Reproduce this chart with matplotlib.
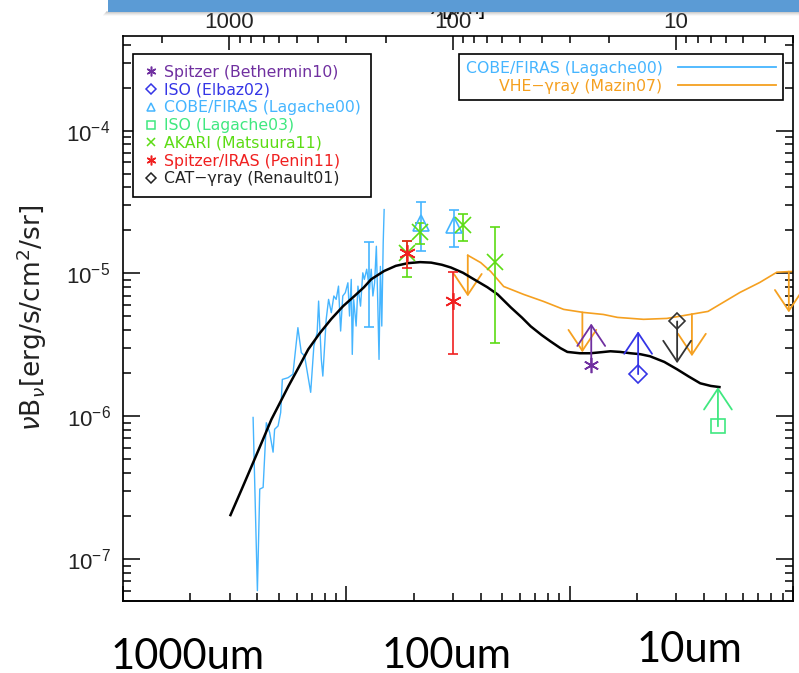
import numpy as np
import matplotlib

matplotlib.use('Agg')
import matplotlib.pyplot as plt
from matplotlib.lines import Line2D
from matplotlib.patches import Rectangle
from matplotlib.ticker import LogLocator, NullFormatter, FixedLocator, FixedFormatter

C_UM = 2.998e14   # nu [Hz] = C_UM / lambda [um]

# --- model EBL curve (black) ---
model_lam = [990, 880, 782, 710, 649, 590, 545, 490, 444, 395, 350, 310, 277, 250, 232,
             203, 180, 159, 140, 125, 112, 102, 90, 80.5, 70, 63, 55, 49, 44.8, 40,
             36.5, 33, 30.7, 27, 24.2, 21.5, 19.7, 17.8, 16.0, 14.5, 13.1, 11.3, 9.9,
             8.8, 7.8, 7.0, 6.4]
model_val = [2.03e-7, 3.1e-7, 4.77e-7, 6.8e-7, 9.5e-7, 1.27e-6, 1.62e-6, 2.2e-6, 2.94e-6,
             3.8e-6, 4.8e-6, 5.9e-6, 6.9e-6, 8.0e-6, 9.1e-6, 1.04e-5, 1.13e-5, 1.18e-5,
             1.2e-5, 1.19e-5, 1.15e-5, 1.10e-5, 1.01e-5, 9.1e-6, 8.0e-6, 7.13e-6, 5.78e-6,
             4.9e-6, 4.26e-6, 3.7e-6, 3.34e-6, 3.0e-6, 2.82e-6, 2.76e-6, 2.76e-6, 2.81e-6,
             2.85e-6, 2.82e-6, 2.76e-6, 2.72e-6, 2.63e-6, 2.4e-6, 2.13e-6, 1.9e-6, 1.70e-6,
             1.63e-6, 1.60e-6]

# --- COBE/FIRAS spectrum (Lagache00) ---
firas_lam = [784, 750, 732, 707, 684, 661, 638, 628, 606, 590, 580, 547, 520, 494, 477,
             461, 433, 419, 405, 399, 388, 382, 369, 360, 350, 341, 333, 325, 318, 311,
             303, 295, 290, 285, 282, 278, 271, 266, 259, 253, 249, 243, 236, 232, 228,
             224, 220, 217, 214, 211, 208, 205, 203]
firas_val = [0.98, 0.060, 0.309, 0.317, 0.90, 0.77, 0.56, 0.81, 0.855, 1.06, 1.81, 1.86,
             1.97, 4.17, 2.79, 2.64, 1.47, 3.10, 3.85, 6.4, 2.5, 1.91, 4.77, 6.58, 5.31,
             6.95, 6.58, 8.15, 3.95, 6.95, 7.33, 8.6, 5.03, 9.08, 2.71, 6.58, 4.28, 8.15,
             5.9, 10.1, 9.08, 10.7, 7.73, 10.7, 6.95, 8.6, 15.5, 6.58, 2.5, 11.2, 4.28,
             16.4, 28.0]   # units of 1e-6
firas_err_lam = [237]
firas_err_lo = [4.19e-6]
firas_err_hi = [1.65e-5]

# --- VHE gamma-ray upper limit (Mazin07) ---
vhe_lam = [85.7, 75, 67.6, 59.2, 48.2, 39.3, 31.9, 26.0, 21.2, 18.3, 14.0, 11.0, 8.66,
           7.2, 5.18, 4.22, 3.54, 3.10, 3.0]
vhe_val = [1.34e-5, 1.19e-5, 1.03e-5, 8.1e-6, 7.13e-6, 6.37e-6, 5.6e-6, 5.33e-6, 5.16e-6,
           4.92e-6, 4.77e-6, 4.84e-6, 5.16e-6, 5.42e-6, 7.36e-6, 8.65e-6, 1.02e-5,
           1.03e-5, 1.03e-5]
vhe_arrow_lam = [85.7, 26.3, 8.5, 3.13]
vhe_arrow_top = [1.34e-5, 5.33e-6, 5.2e-6, 1.03e-5]
vhe_arrow_tip = [6.9e-6, 2.8e-6, 2.63e-6, 5.33e-6]

# --- points with error bars ---
lag00_lam = [139, 99]
lag00_val = [2.27e-5, 2.2e-5]
lag00_lo = [1.43e-5, 1.52e-5]
lag00_hi = [3.14e-5, 2.8e-5]

akari_lam = [160, 140, 90, 65]
akari_val = [1.38e-5, 1.94e-5, 2.17e-5, 1.21e-5]
akari_lo = [9.4e-6, 1.6e-5, 1.70e-5, 3.24e-6]
akari_hi = [1.70e-5, 2.27e-5, 2.59e-5, 2.1e-5]

penin_lam = [160, 100]
penin_val = [1.38e-5, 6.37e-6]
penin_lo = [1.1e-5, 2.72e-6]
penin_hi = [1.70e-5, 1.03e-5]

# --- limits: value, arrow tip ---
beth_lam, beth_val, beth_tip = [24], [2.28e-6], [4.46e-6]
elbaz_lam, elbaz_val, elbaz_tip = [14.8], [1.97e-6], [3.93e-6]
lag03_lam, lag03_val, lag03_tip = [6.5], [8.5e-7], [1.6e-6]
ren_lam, ren_val, ren_tip = [9.9], [4.61e-6], [2.35e-6]

top_ticks = [1000, 100, 10]
top_tick_labels = ['1000', '100', '10']

C_PURPLE = '#7030a0'
C_BLUE = '#3535e6'
C_LBLUE = '#45b5ff'
C_LGREEN = '#40e880'
C_GREEN = '#5cdc14'
C_RED = '#f02020'
C_ORANGE = '#f5a020'
ASTER = (6, 2, 0)

plt.rcParams['font.family'] = 'Liberation Sans'
plt.rcParams['mathtext.fontset'] = 'custom'
plt.rcParams['mathtext.rm'] = 'Liberation Sans'
plt.rcParams['mathtext.it'] = 'Liberation Sans:italic'
plt.rcParams['mathtext.bf'] = 'Liberation Sans:bold'

fig = plt.figure(figsize=(7.99, 6.73), dpi=100)
ax = fig.add_axes([123 / 799, 1 - 601 / 673, 670 / 799, 565 / 673])
ax.set_xscale('log')
ax.set_yscale('log')
ax.set_xlim(C_UM / 1e11, C_UM / 1e14)
ax.set_ylim(5.08e-8, 4.6e-4)


def arrows(lams, base, tip, color):
    for l, b, t in zip(lams, base, tip):
        ax.annotate('', xy=(l, t), xytext=(l, b),
                    arrowprops=dict(arrowstyle='->,head_length=1.5,head_width=1.0',
                                    color=color, lw=1.3, shrinkA=0, shrinkB=0,
                                    mutation_scale=10))


# lines
ax.plot(firas_lam, np.array(firas_val) * 1e-6, color=C_LBLUE, lw=1.0, zorder=2)
fl_mid = np.sqrt(np.array(firas_err_lo) * np.array(firas_err_hi))
ax.errorbar(firas_err_lam, fl_mid,
            yerr=[fl_mid - np.array(firas_err_lo), np.array(firas_err_hi) - fl_mid],
            fmt='none', ecolor=C_LBLUE, elinewidth=1.2, capsize=3.6, capthick=1.2, zorder=2)
ax.plot(vhe_lam, vhe_val, color=C_ORANGE, lw=1.2, zorder=2)
arrows(vhe_arrow_lam, vhe_arrow_top, vhe_arrow_tip, C_ORANGE)
ax.plot(model_lam, model_val, color='black', lw=1.8, zorder=3)


def errpts(lam, val, lo, hi, marker, color, ms):
    val = np.array(val)
    ax.errorbar(lam, val, yerr=[val - np.array(lo), np.array(hi) - val], fmt='',
                marker=marker, ls='none', color=color, mfc='none', mec=color, ms=ms,
                mew=1.2, elinewidth=1.2, capsize=3.6, capthick=1.2, zorder=4)


errpts(lag00_lam, lag00_val, lag00_lo, lag00_hi, '^', C_LBLUE, 11)
errpts(akari_lam, akari_val, akari_lo, akari_hi, 'x', C_GREEN, 11)
errpts(penin_lam, penin_val, penin_lo, penin_hi, ASTER, C_RED, 12)

# limits
ax.plot(beth_lam, beth_val, ls='none', marker=ASTER, ms=11, mew=1.2, color=C_PURPLE, zorder=4)
arrows(beth_lam, beth_val, beth_tip, C_PURPLE)
ax.plot(elbaz_lam, elbaz_val, ls='none', marker='D', ms=9, mfc='none', mew=1.2,
        mec=C_BLUE, zorder=4)
arrows(elbaz_lam, elbaz_val, elbaz_tip, C_BLUE)
ax.plot(lag03_lam, lag03_val, ls='none', marker='s', ms=10, mfc='none', mew=1.2,
        mec=C_LGREEN, zorder=4)
arrows(lag03_lam, lag03_val, lag03_tip, C_LGREEN)
ax.plot(ren_lam, ren_val, ls='none', marker='D', ms=8, mfc='none', mew=1.2,
        mec='#333333', zorder=4)
arrows(ren_lam, ren_val, ren_tip, '#333333')

# top axis: wavelength
ax.xaxis.set_ticks_position('top')
ax.xaxis.set_label_position('top')
ax.xaxis.set_major_locator(FixedLocator(top_ticks))
ax.xaxis.set_major_formatter(FixedFormatter(top_tick_labels))
ax.xaxis.set_minor_locator(LogLocator(base=10, subs=np.arange(2, 10), numticks=20))
ax.xaxis.set_minor_formatter(NullFormatter())
ax.tick_params(axis='x', which='major', direction='in', length=10, width=1.1,
               labelsize=16, pad=2, colors='black', labelcolor='#222222')
ax.tick_params(axis='x', which='minor', direction='in', length=5, width=1.1)
ax.set_xlabel(r'$\lambda$[$\mu$m]', fontsize=16)
ax.xaxis.set_label_coords(0.5, 1 + (36 - 14) / 565)

# bottom axis: frequency, no labels
sec = ax.secondary_xaxis('bottom', functions=(lambda l: C_UM / l, lambda n: C_UM / n))
sec.xaxis.set_major_locator(LogLocator(base=10, numticks=10))
sec.xaxis.set_minor_locator(LogLocator(base=10, subs=np.arange(2, 10), numticks=20))
sec.xaxis.set_major_formatter(NullFormatter())
sec.xaxis.set_minor_formatter(NullFormatter())
sec.tick_params(which='major', direction='in', length=11, width=1.1)
sec.tick_params(which='minor', direction='in', length=6, width=1.1)
sec.spines['bottom'].set_linewidth(1.2)

ax.yaxis.set_minor_locator(LogLocator(base=10, subs=np.arange(2, 10), numticks=20))
ax.yaxis.set_minor_formatter(NullFormatter())
ax.tick_params(axis='y', which='major', direction='in', length=12, width=1.1, left=True,
               right=True, labelsize=16, pad=9, labelcolor='#222222')
ax.tick_params(axis='y', which='minor', direction='in', length=6, width=1.1, left=True,
               right=True)
for s in ax.spines.values():
    s.set_linewidth(1.2)
ax.set_ylabel(r'$\nu$B$_\nu$[erg/s/cm$^2$/sr]', fontsize=19, color='#222222',
              family='DejaVu Sans', math_fontfamily='dejavusans')
ax.yaxis.set_label_coords((49 - 123) / 670, 1 - (318 - 36) / 565)

# legends
leg_fp = {'family': 'DejaVu Sans', 'size': 11.3}
h1 = [Line2D([], [], ls='none', marker=ASTER, ms=7, mew=1.1, color=C_PURPLE),
      Line2D([], [], ls='none', marker='D', ms=5, mfc='none', mew=1.1, mec=C_BLUE),
      Line2D([], [], ls='none', marker='^', ms=6, mfc='none', mew=1.1, mec=C_LBLUE),
      Line2D([], [], ls='none', marker='s', ms=6, mfc='none', mew=1.1, mec=C_LGREEN),
      Line2D([], [], ls='none', marker='x', ms=6, mew=1.1, color=C_GREEN),
      Line2D([], [], ls='none', marker=ASTER, ms=7, mew=1.1, color=C_RED),
      Line2D([], [], ls='none', marker='D', ms=5, mfc='none', mew=1.1, mec='#222222')]
l1 = ['Spitzer (Bethermin10)', 'ISO (Elbaz02)', 'COBE/FIRAS (Lagache00)',
      'ISO (Lagache03)', 'AKARI (Matsuura11)', 'Spitzer/IRAS (Penin11)',
      'CAT\u2212\u03b3ray (Renault01)']
c1 = [C_PURPLE, C_BLUE, C_LBLUE, C_LGREEN, C_GREEN, C_RED, '#222222']
leg1 = ax.legend(h1, l1, loc='upper left', bbox_to_anchor=((133 - 123) / 670, 1 - (54 - 36) / 565),
                 borderaxespad=0, prop=leg_fp, labelcolor=c1, fancybox=False,
                 edgecolor='black', framealpha=1, borderpad=0.7, labelspacing=0.175,
                 handlelength=0.95, handletextpad=0.3)
leg1.get_frame().set_linewidth(1.2)
ax.add_artist(leg1)

h2 = [Line2D([], [], color=C_LBLUE, lw=1.3), Line2D([], [], color=C_ORANGE, lw=1.3)]
l2 = ['COBE/FIRAS (Lagache00)', 'VHE\u2212\u03b3ray (Mazin07)']
leg2 = ax.legend(h2, l2, loc='upper right', bbox_to_anchor=((783 - 123) / 670, 1 - (54 - 36) / 565),
                 borderaxespad=0, prop=leg_fp, labelcolor=[C_LBLUE, C_ORANGE], fancybox=False,
                 edgecolor='black', framealpha=1, borderpad=0.42, labelspacing=0.2,
                 handlelength=6.3, handletextpad=0.95, markerfirst=False)
leg2.get_frame().set_linewidth(1.2)

# slide overlay: title bar and wavelength labels
for i, a in enumerate([0.25, 0.17, 0.10, 0.05]):
    fig.patches.append(Rectangle(((106 - i) / 799, 1 - (13 + i) / 673), (693 + i) / 799, 2 / 673,
                                 transform=fig.transFigure, color='gray', alpha=a,
                                 lw=0, zorder=9))
fig.patches.append(Rectangle((108 / 799, 1 - 12 / 673), 691 / 799, 12 / 673,
                             transform=fig.transFigure, color='#5b9bd5', lw=0, zorder=10))

fig.text(188 / 799, 1 - 669 / 673, '1000um', fontsize=30, family='Lato', ha='center',
         va='baseline')
fig.text(447 / 799, 1 - 668 / 673, '100um', fontsize=30, family='Lato', ha='center',
         va='baseline')
fig.text(689 / 799, 1 - 662 / 673, '10um', fontsize=30, family='Lato', ha='center',
         va='baseline')

fig.savefig('out.png', dpi=100)
